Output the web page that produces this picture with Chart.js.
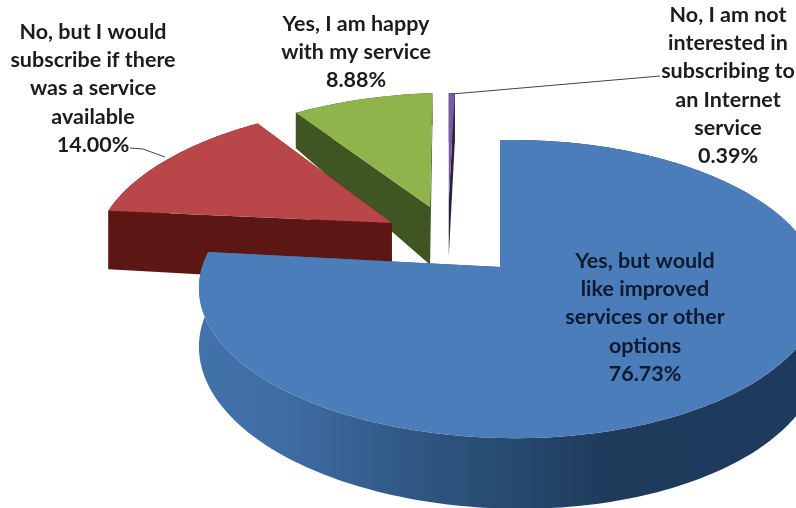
<!DOCTYPE html>
<html>
<head>
	<title>Internet service survey</title>
	<script src="https://cdn.jsdelivr.net/npm/chart.js@4.4.1/dist/chart.umd.js" type="text/javascript"></script>
	<style>
		html, body { margin: 0; padding: 0; background: #fff; }
		canvas { display: block; }
	</style>
</head>
<body>
	<canvas id="pie" width="796" height="508"></canvas>
<script>
	// data
	const categories = [
		"Yes, but would like improved services or other options",
		"No, but I would subscribe if there was a service available",
		"Yes, I am happy with my service",
		"No, I am not interested in subscribing to an Internet service"
	];
	const values = [76.73, 14.00, 8.88, 0.39];
	const labelLines = [
		["Yes, but would", "like improved", "services or other", "options"],
		["No, but I would", "subscribe if there", "was a service", "available"],
		["Yes, I am happy", "with my service"],
		["No, I am not", "interested in", "subscribing to", "an Internet", "service"]
	];

	// styles
	const topColors = ["#4a7dba", "#b9474a", "#8fb44c", "#7b5ba8"];
	const wallColors = [null, "#5c1715", "#3f5522", "#2a2238"];
	const blueWallStops = [[0, "#4272ab"], [0.14, "#3f6da3"], [0.38, "#2f5580"], [0.52, "#264a70"], [0.68, "#1f3b5c"], [1, "#1e3a5c"]];
	const textColors = ["#0f1a30", "#1c1c1c", "#1c1c1c", "#1c1c1c"];

	// 3d view of the pie: perspective from above and slightly from the left
	const view = { cx: 500, cy: 267, rxLeft: 311, rxRight: 303, ry: 145.7, k: 0.148, m: 0.044 };
	const explode = [[0, 0], [-0.37, -0.321], [-0.242, -0.443], [-0.178, -0.49]];
	const radius = [1, 1.055, 1.025, 0.97];
	const depth = [60, 66, 62, 60];
	const depthTilt = [0, 0, 0.35, 0];
	const labelPos = [[645, 261], [93, 32], [356, 24], [728, 15]];
	const leaders = [null, [[130, 148], [143, 149], [165, 157]], null, [[660, 76], [452, 94]]];

	function project(u, v, h) {
		var w = 1 - view.k * v - view.m * u;
		var rx = u < 0 ? view.rxLeft : view.rxRight;
		return [view.cx + rx * u / w, view.cy + (view.ry * v + h) / w];
	}

	function sliceHeight(q, i) {
		return depth[i] * (1 + depthTilt[i] * (q[1] - explode[i][1]));
	}

	function outline(arc, i) {
		var p = arc.getProps(["startAngle", "endAngle"], true);
		var pts = [];
		var steps = Math.max(2, Math.ceil((p.endAngle - p.startAngle) / 0.02));
		for (var s = 0; s <= steps; s++) {
			var a = p.startAngle + (p.endAngle - p.startAngle) * s / steps;
			pts.push([explode[i][0] + radius[i] * Math.cos(a), explode[i][1] + radius[i] * Math.sin(a)]);
		}
		return pts;
	}

	function fillRibbon(ctx, pts, i) {
		ctx.beginPath();
		pts.forEach(function (q, n) {
			var p = project(q[0], q[1], 0);
			if (n == 0) ctx.moveTo(p[0], p[1]); else ctx.lineTo(p[0], p[1]);
		});
		pts.slice().reverse().forEach(function (q) {
			var p = project(q[0], q[1], sliceHeight(q, i));
			ctx.lineTo(p[0], p[1]);
		});
		ctx.closePath();
		ctx.fill();
	}

	const pie3d = {
		id: "pie3d",
		beforeDatasetsDraw(chart) {
			var ctx = chart.ctx, arcs = chart.getDatasetMeta(0).data;
			// back to front
			[3, 2, 1, 0].forEach(function (i) {
				var pts = outline(arcs[i], i), wall = wallColors[i], apex = explode[i];
				if (i == 0) {
					wall = ctx.createLinearGradient(200, 0, 796, 0);
					blueWallStops.forEach(function (s) { wall.addColorStop(s[0], s[1]); });
				}
				ctx.fillStyle = wall;
				fillRibbon(ctx, [apex, pts[0]], i);
				fillRibbon(ctx, [pts[pts.length - 1], apex], i);
				fillRibbon(ctx, pts, i);
				ctx.beginPath();
				[apex].concat(pts).forEach(function (q, n) {
					var p = project(q[0], q[1], 0);
					if (n == 0) ctx.moveTo(p[0], p[1]); else ctx.lineTo(p[0], p[1]);
				});
				ctx.closePath();
				ctx.fillStyle = topColors[i];
				ctx.fill();
			});
			return false;
		},
		afterDraw(chart) {
			var ctx = chart.ctx;
			ctx.save();
			ctx.strokeStyle = "#444";
			ctx.lineWidth = 1;
			leaders.forEach(function (l) {
				if (!l) return;
				ctx.beginPath();
				l.forEach(function (p, n) { if (n == 0) ctx.moveTo(p[0], p[1]); else ctx.lineTo(p[0], p[1]); });
				ctx.stroke();
			});
			ctx.font = "bold 21.5px Lato";
			ctx.textAlign = "center";
			ctx.textBaseline = "middle";
			labelLines.forEach(function (lines, i) {
				ctx.fillStyle = textColors[i];
				lines.concat(values[i].toFixed(2) + "%").forEach(function (t, n) {
					ctx.fillText(t, labelPos[i][0], labelPos[i][1] + n * 28.2);
				});
			});
			ctx.restore();
		}
	};

	var chart = new Chart(document.getElementById("pie"), {
		type: "pie",
		data: {
			labels: categories,
			datasets: [{ data: values, backgroundColor: topColors, borderWidth: 0 }]
		},
		options: {
			responsive: false,
			animation: false,
			plugins: { legend: { display: false }, tooltip: { enabled: false } }
		},
		plugins: [pie3d]
	});
</script>
</body>
</html>
